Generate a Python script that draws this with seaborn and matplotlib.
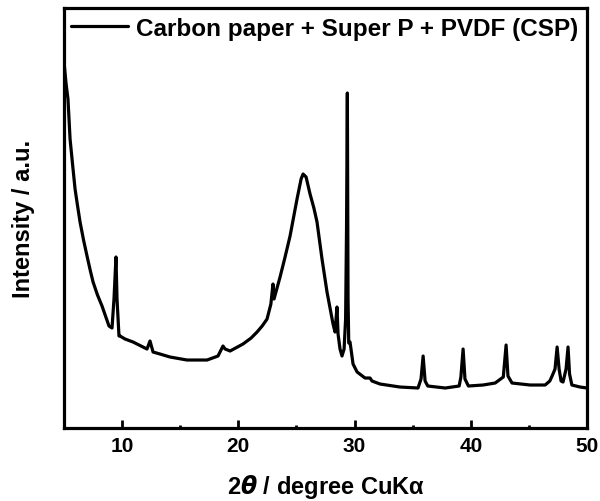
import matplotlib
matplotlib.use("Agg")
import matplotlib.pyplot as plt
import seaborn as sns
import pandas as pd
from matplotlib.ticker import MultipleLocator

two_theta = [5.0, 5.17, 5.34, 5.52, 5.75, 5.95, 6.18, 6.38, 6.68, 6.98, 7.25, 7.50,
             7.88, 8.27, 8.60, 8.87, 9.13,
             9.30, 9.47, 9.56, 9.73, 9.82, 10.25, 10.94, 12.14, 12.40, 12.66,
             13.26, 14.12, 15.58, 17.31, 18.25, 18.68, 18.86, 19.29, 20.40, 21.10, 21.61,
             22.05, 22.47, 22.80, 22.98, 23.07, 23.59, 24.00, 24.45, 25.05, 25.40, 25.57, 25.83,
             26.17, 26.50, 26.77, 27.20, 27.63, 28.15, 28.32, 28.49, 28.58, 28.75, 28.92,
             29.10, 29.23, 29.31, 29.38, 29.44, 29.50, 29.61, 29.87, 30.22, 30.90,
             31.33, 31.50, 32.19, 33.90, 35.46, 35.72, 35.90, 36.07, 36.30, 37.80,
             39.00, 39.15, 39.34, 39.50, 39.80, 41.06, 42.10, 42.80, 43.04, 43.20,
             43.55, 45.10, 46.40, 46.80, 47.00, 47.25, 47.43, 47.60, 47.77, 47.94,
             48.20, 48.37, 48.50, 48.70, 49.40, 50.0]
intensity = [366, 345, 329, 289, 262, 239, 221, 206, 188, 172, 158, 146,
             133, 122, 111, 102, 100,
             129, 171, 129, 92, 92, 89, 86, 79, 87, 76,
             74, 71, 68, 68, 72, 82, 79, 77, 84, 90, 96,
             102, 109, 124, 144, 129, 151, 170, 192, 229, 249, 254, 251,
             234, 220, 206, 169, 136, 104, 96, 121, 94, 79, 72,
             79, 109, 200, 335, 129, 85, 86, 64, 56, 50,
             50, 47, 44, 41, 40, 49, 72, 47, 42, 40,
             42, 51, 79, 49, 42, 43, 45, 51, 83, 52,
             45, 43, 43, 47, 52, 59, 81, 59, 47, 46,
             59, 81, 54, 43, 41, 40]
series_label = "Carbon paper + Super P + PVDF (CSP)"
x_ticks = [10, 20, 30, 40, 50]

df = pd.DataFrame({"two_theta": two_theta, "intensity": intensity})

sns.set_theme(style="ticks")
plt.rcParams["font.family"] = ["Liberation Sans", "DejaVu Sans"]
plt.rcParams["text.color"] = "black"
plt.rcParams["axes.labelcolor"] = "black"
plt.rcParams["xtick.color"] = "black"
plt.rcParams["ytick.color"] = "black"
plt.rcParams["mathtext.fontset"] = "custom"
plt.rcParams["mathtext.it"] = "Liberation Sans:bold:italic"
plt.rcParams["mathtext.bf"] = "Liberation Sans:bold"

fig = plt.figure(figsize=(6.0, 5.02), dpi=100)
ax = fig.add_axes([0.1067, 0.1454, 0.8716, 0.8366])

sns.lineplot(data=df, x="two_theta", y="intensity", ax=ax, color="black",
             linewidth=2.3, sort=False, estimator=None, label=series_label)

ax.set_xlim(5, 50)
ax.set_ylim(0, 420)
ax.set_xticks(x_ticks)
ax.xaxis.set_minor_locator(MultipleLocator(5))
ax.set_yticks([])
ax.tick_params(axis="x", which="major", direction="in", length=6, width=2,
               labelsize=15, pad=6, labelcolor="black")
ax.tick_params(axis="x", which="minor", direction="in", length=2.5, width=2)
for lbl in ax.get_xticklabels():
    lbl.set_fontweight("bold")
for sp in ax.spines.values():
    sp.set_linewidth(2.3)
    sp.set_color("black")

ax.set_xlabel(r"2$\boldsymbol{\theta}$ / degree CuK$\mathbf{\alpha}$", fontsize=17,
              fontweight="bold", labelpad=12, color="black")
ax.set_ylabel("Intensity / a.u.", fontsize=17, fontweight="bold", labelpad=21,
              color="black")

leg = ax.legend(loc="upper right", frameon=False,
                handlelength=2.35, handletextpad=0.33, borderaxespad=0.05,
                borderpad=0.3, prop={"weight": "bold", "size": 17.5})
for t in leg.get_texts():
    t.set_color("black")

fig.savefig("out.png", dpi=100)
